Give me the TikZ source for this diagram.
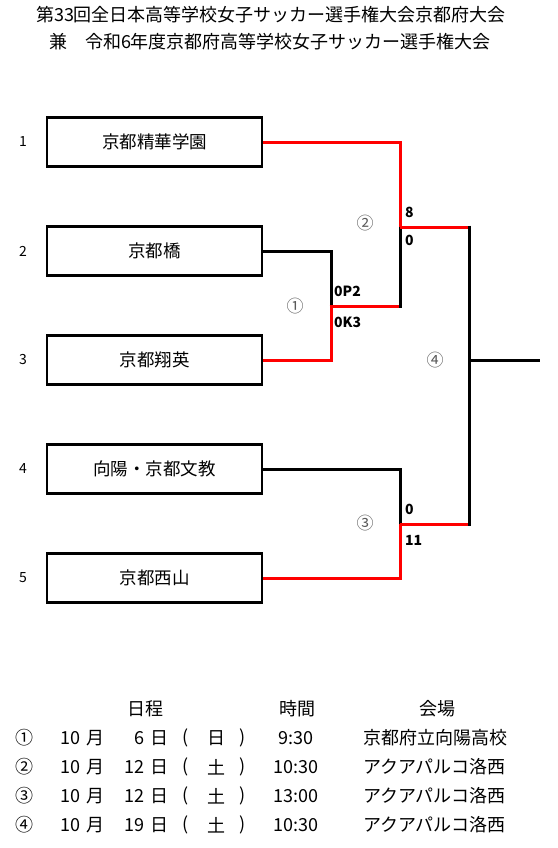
\documentclass[tikz,border=0pt]{standalone}
\usepackage{fontspec}
\setmainfont{Noto Sans CJK JP}
\definecolor{winred}{RGB}{255,0,0}
\begin{document}
\begin{tikzpicture}[x=1pt,y=-1pt,
  team/.style={draw,line width=2.2pt,minimum width=215pt,minimum height=49pt,inner sep=0pt,font=\fontsize{17.5}{17.5}\selectfont},
  seed/.style={font=\fontsize{14}{14}\selectfont},
  lose/.style={line width=3pt,black},
  win/.style={line width=3pt,winred},
  score/.style={font=\fontsize{14}{14}\selectfont\bfseries,anchor=west,inner sep=0pt},
  rnd/.style={font=\fontsize{17}{17}\selectfont,text=black!65},
  tt/.style={font=\fontsize{18}{18}\selectfont,inner sep=0pt}]
\useasboundingbox (0,0) rectangle (557,848);
% title
\node[tt] (t1) at (271,15) {第33回全日本高等学校女子サッカー選手権大会京都府大会};
\node[tt] (t2) at (270,42) {兼\hspace{1em}令和6年度京都府高等学校女子サッカー選手権大会};
% teams
\node[team] (b1) at (154.5,142) {京都精華学園};
\node[team] (b2) at (154.5,251) {京都橋};
\node[team] (b3) at (154.5,360) {京都翔英};
\node[team] (b4) at (154.5,469) {向陽・京都文教};
\node[team] (b5) at (154.5,578) {京都西山};
\node[seed] (s1) at (23,142) {1};
\node[seed] (s2) at (23,251) {2};
\node[seed] (s3) at (23,360) {3};
\node[seed] (s4) at (23,469) {4};
\node[seed] (s5) at (23,578) {5};
% junction coordinates
\coordinate (m1) at (331,306);
\coordinate (m2) at (400,227);
\coordinate (m3) at (400,524);
\coordinate (m4) at (469,360);
\coordinate (fin) at (540,360);
% match 1
\draw[lose] (b2.east) -| (m1);
\draw[win] (b3.east) -| (m1);
% match 2
\draw[win] (b1.east) -| (m2);
\draw[win] (329.5,306) -- (400,306);
\draw[lose] (400,307.5) -- (m2);
% match 3
\draw[lose] (b4.east) -| (m3);
\draw[win] (b5.east) -| (m3);
% final
\draw[win] (m2) -- (469,227);
\draw[win] (m3) -- (469,524);
\draw[lose] (469,225.5) -- (469,525.5);
\draw[lose] (m4) -- (fin);
% scores
\node[score] (sc1) at (405,212) {8};
\node[score] (sc2) at (405,240) {0};
\node[score] (sc3) at (334,291) {0P2};
\node[score] (sc4) at (334,322) {0K3};
\node[score] (sc5) at (405,509) {0};
\node[score] (sc6) at (405,540) {11};
% round marks
\node[rnd] (r1) at (295,306) {①};
\node[rnd] (r2) at (365,223) {②};
\node[rnd] (r3) at (365,523) {③};
\node[rnd] (r4) at (435,360) {④};
% schedule table
\node[tt] (h1) at (145,709) {日程};
\node[tt] (h2) at (297,709) {時間};
\node[tt] (h3) at (437,709) {会場};
\foreach \y/\c/\d/\w/\t/\v in {738/①/6/日/9:30/京都府立向陽高校,767/②/12/土/10:30/アクアパルコ洛西,796/③/12/土/13:00/アクアパルコ洛西,825/④/19/土/10:30/アクアパルコ洛西}{
  \node[tt] at (24,\y) {\c};
  \node[tt] at (70,\y) {10};
  \node[tt] at (95,\y) {月};
  \node[tt,anchor=east] at (145,\y) {\d};
  \node[tt] at (159,\y) {日};
  \node[tt] at (186,\y) {(};
  \node[tt] at (216,\y) {\w};
  \node[tt] at (243,\y) {)};
  \node[tt] at (296,\y) {\t};
  \node[tt,anchor=west] at (363,\y) {\v};
}
\end{tikzpicture}
\end{document}
